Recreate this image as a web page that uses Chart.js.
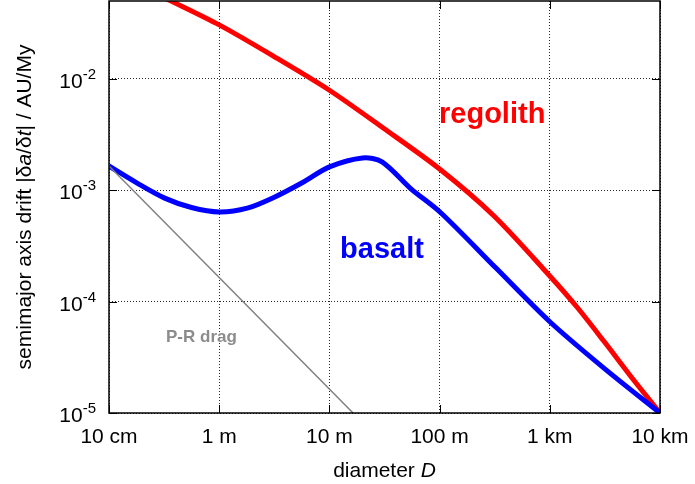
<!DOCTYPE html>
<html lang="en">
<head>
<meta charset="UTF-8" />
<title>Semimajor axis drift</title>
<script src="https://cdn.jsdelivr.net/npm/chart.js@4.4.1/dist/chart.umd.min.js"></script>
<style>
  html, body { margin: 0; padding: 0; background: #fff; }
  canvas { display: block; }
</style>
</head>
<body>
<canvas id="myChart" width="695" height="484"></canvas>
<script>
// x ticks (diameter in metres) and y ticks (AU/My)
const xDecades = [0.1, 1, 10, 100, 1000, 10000];
const xTickLabels = ["10 cm", "1 m", "10 m", "100 m", "1 km", "10 km"];
const yDecades = [1e-5, 1e-4, 1e-3, 1e-2];
const yExponents = ["-5", "-4", "-3", "-2"];

// regolith curve
const regolithD = [0.33, 1, 3.1, 10, 31, 100, 310, 1000, 1770, 3100, 5600, 10000];
const regolithV = [0.0526, 0.0305, 0.0160, 7.9e-3, 3.6e-3, 1.55e-3, 5.9e-4, 1.7e-4, 8.9e-5, 4.4e-5, 2.05e-5, 1.0e-5];

// basalt curve
const basaltD = [0.1, 0.18, 0.32, 0.56, 1, 1.8, 3.2, 5.6, 10, 20, 30, 55, 103, 325, 1000, 3240, 10000];
const basaltV = [1.65e-3, 1.16e-3, 8.5e-4, 7.0e-4, 6.38e-4, 6.9e-4, 8.7e-4, 1.16e-3, 1.62e-3, 1.95e-3, 1.8e-3, 1.03e-3, 6.25e-4, 2.0e-4, 6.6e-5, 2.44e-5, 1.0e-5];

// Poynting-Robertson drag
const prD = [0.1, 16.4];
const prV = [1.65e-3, 1.0e-5];

const FONT = "'Liberation Sans', Arial, sans-serif";

// text labels placed in data coordinates (centre x, baseline y)
const notes = [
  { text: "regolith", D: 300, v: 4e-3, color: "#ff0000", font: "bold 29px " + FONT },
  { text: "basalt", D: 30, v: 2.45e-4, color: "#0000ff", font: "bold 29px " + FONT },
  { text: "P-R drag", D: 0.69, v: 4.3e-5, color: "#8c8c8c", font: "bold 17px " + FONT },
];

const toPoints = (xs, ys) => xs.map((x, i) => ({ x, y: ys[i] }));

// draw a run of text pieces, some italic, centred on x
function richText(ctx, parts, x, y, size) {
  const fontOf = (it) => (it ? "italic " : "") + size + "px " + FONT;
  let total = 0;
  parts.forEach(([t, it]) => { ctx.font = fontOf(it); total += ctx.measureText(t).width; });
  let cx = x - total / 2;
  ctx.textAlign = "left";
  parts.forEach(([t, it]) => {
    ctx.font = fontOf(it);
    ctx.fillText(t, cx, y);
    cx += ctx.measureText(t).width;
  });
}

const frame = {
  id: "frame",
  afterDraw(chart) {
    const { ctx, chartArea: a, scales } = chart;
    const x = scales.x, y = scales.y;
    ctx.save();
    ctx.strokeStyle = "#000";
    ctx.lineWidth = 1;
    ctx.beginPath();
    xDecades.forEach((d) => {
      const px = Math.round(x.getPixelForValue(d)) + 0.5;
      ctx.moveTo(px, a.bottom); ctx.lineTo(px, a.bottom - 8);
      ctx.moveTo(px, a.top); ctx.lineTo(px, a.top + 8);
    });
    yDecades.forEach((v) => {
      const py = Math.round(y.getPixelForValue(v)) + 0.5;
      ctx.moveTo(a.left, py); ctx.lineTo(a.left + 8, py);
      ctx.moveTo(a.right, py); ctx.lineTo(a.right - 8, py);
    });
    ctx.stroke();
    ctx.lineWidth = 1.5;
    ctx.strokeRect(a.left, a.top, a.right - a.left, a.bottom - a.top);

    ctx.fillStyle = "#000";
    ctx.textBaseline = "alphabetic";
    // x tick labels
    ctx.font = "21px " + FONT;
    ctx.textAlign = "center";
    xDecades.forEach((d, i) => ctx.fillText(xTickLabels[i], x.getPixelForValue(d), a.bottom + 30));
    // y tick labels with superscript exponent
    ctx.textAlign = "right";
    yDecades.forEach((v, i) => {
      const py = y.getPixelForValue(v);
      const right = a.left - 13;
      ctx.font = "15px " + FONT;
      const w = ctx.measureText(yExponents[i]).width;
      ctx.fillText(yExponents[i], right, py);
      ctx.font = "21px " + FONT;
      ctx.fillText("10", right - w, py + 9);
    });

    // axis titles
    richText(ctx, [["diameter ", false], ["D", true]], (a.left + a.right) / 2, 477, 21);
    ctx.save();
    ctx.translate(31, (a.top + a.bottom) / 2);
    ctx.rotate(-Math.PI / 2);
    richText(ctx, [["semimajor axis drift |\u03b4", false], ["a", true], ["/\u03b4", false], ["t", true], ["| / AU/My", false]], 0, 0, 21);
    ctx.restore();

    // curve labels
    ctx.textAlign = "center";
    notes.forEach((n) => {
      ctx.font = n.font;
      ctx.fillStyle = n.color;
      ctx.fillText(n.text, x.getPixelForValue(n.D), y.getPixelForValue(n.v));
    });
    ctx.restore();
  },
};

const gridOpts = { color: "rgba(0,0,0,0.85)", lineWidth: 1, drawTicks: false };

new Chart(document.getElementById("myChart").getContext("2d"), {
  type: "line",
  data: {
    datasets: [
      { label: "P-R drag", data: toPoints(prD, prV), borderColor: "#808080", borderWidth: 1.5, tension: 0 },
      { label: "basalt", data: toPoints(basaltD, basaltV), borderColor: "#0000ff", borderWidth: 5, tension: 0.3 },
      { label: "regolith", data: toPoints(regolithD, regolithV), borderColor: "#ff0000", borderWidth: 5, tension: 0.3 },
    ],
  },
  options: {
    responsive: false,
    animation: false,
    devicePixelRatio: 1,
    events: [],
    layout: { padding: { left: 0, top: 1, right: 35, bottom: 0 } },
    elements: { point: { radius: 0 }, line: { fill: false, borderJoinStyle: "round" } },
    plugins: { legend: { display: false }, tooltip: { enabled: false } },
    scales: {
      x: {
        type: "logarithmic",
        min: 0.1,
        max: 10000,
        afterBuildTicks: (s) => { s.ticks = xDecades.map((value) => ({ value })); },
        afterFit: (s) => { s.height = 71; },
        ticks: { display: false },
        grid: gridOpts,
        border: { display: false, dash: [1, 2] },
      },
      y: {
        type: "logarithmic",
        min: 1e-5,
        max: 0.05,
        afterBuildTicks: (s) => { s.ticks = yDecades.map((value) => ({ value })); },
        afterFit: (s) => { s.width = 109; },
        ticks: { display: false },
        grid: gridOpts,
        border: { display: false, dash: [1, 2] },
      },
    },
  },
  plugins: [frame],
});
</script>
</body>
</html>
